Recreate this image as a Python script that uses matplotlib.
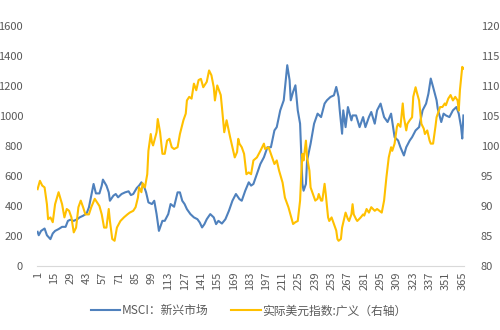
import matplotlib
matplotlib.use("Agg")
import matplotlib.pyplot as plt

plt.rcParams['font.family'] = ['Noto Sans CJK SC', 'DejaVu Sans']

# day index and values
msci_day = [1, 2, 4, 7, 9, 12, 14, 16, 19, 22, 25, 27, 29, 32, 35, 37, 40, 43, 45, 47,
            49, 51, 54, 56, 57, 60, 62, 63, 66, 68, 70, 73, 76, 79, 81, 83, 86, 88, 90, 92,
            94, 96, 99, 101, 103, 105, 108, 110, 113, 115, 118, 121, 123, 125, 127, 129, 132, 135, 138, 140,
            142, 144, 146, 149, 152, 154, 156, 159, 162, 165, 168, 171, 174, 176, 179, 182, 184, 186, 189, 192,
            195, 198, 201, 204, 206, 209, 212, 215, 217, 218, 220, 222, 224, 226, 228, 229, 231, 232, 235, 238,
            241, 244, 247, 249, 252, 255, 257, 259, 260, 262, 263, 265, 267, 270, 271, 274, 277, 280, 282, 285,
            287, 290, 292, 295, 298, 301, 304, 307, 310, 312, 315, 317, 320, 322, 325, 328, 331, 334, 336, 338,
            340, 343, 344, 347, 349, 351, 354, 357, 360, 362, 364, 365, 366]
msci_val = [228, 205, 234, 250, 205, 179, 217, 234, 246, 261, 261, 301, 308, 301, 312, 324, 335, 350, 391, 469,
            547, 484, 484, 536, 576, 536, 491, 435, 469, 480, 458, 480, 491, 498, 473, 480, 520, 536, 558, 536,
            491, 424, 413, 435, 346, 234, 301, 301, 346, 413, 395, 491, 491, 435, 413, 379, 346, 324, 312, 290,
            257, 279, 312, 346, 324, 279, 301, 283, 312, 368, 435, 480, 446, 435, 502, 558, 536, 547, 614, 681,
            725, 792, 792, 904, 926, 1038, 1105, 1339, 1239, 1105, 1161, 1205, 1038, 949, 547, 502, 547, 703, 815, 949,
            1016, 993, 1083, 1105, 1127, 1138, 1194, 1127, 1038, 882, 1038, 926, 1060, 971, 1004, 1004, 926, 993, 926, 993,
            1027, 949, 1038, 1083, 993, 960, 1016, 859, 837, 792, 737, 792, 837, 859, 904, 926, 1038, 1083, 1149, 1250,
            1194, 1105, 1049, 960, 1016, 1004, 993, 1038, 1060, 1016, 926, 850, 1004]

usd_day = [1, 3, 5, 7, 9, 10, 12, 14, 16, 19, 22, 24, 26, 28, 30, 32, 34, 36, 38, 40,
           42, 45, 47, 50, 52, 54, 56, 58, 60, 62, 63, 65, 67, 69, 72, 75, 78, 80, 83, 85,
           87, 88, 90, 91, 93, 95, 96, 98, 99, 100, 103, 104, 106, 108, 110, 112, 114, 116, 118, 121,
           123, 126, 128, 129, 131, 133, 135, 137, 139, 141, 143, 146, 148, 150, 152, 153, 155, 158, 159, 161,
           163, 166, 168, 170, 172, 173, 174, 176, 178, 180, 182, 184, 186, 189, 192, 195, 196, 199, 201, 204,
           206, 208, 211, 213, 215, 216, 218, 220, 222, 224, 226, 227, 228, 229, 231, 232, 234, 235, 237, 239,
           241, 242, 244, 245, 247, 248, 250, 251, 253, 255, 257, 258, 259, 261, 262, 264, 265, 267, 268, 270,
           271, 272, 274, 275, 278, 280, 281, 283, 285, 287, 290, 292, 294, 296, 298, 300, 302, 304, 305, 307,
           309, 310, 312, 314, 315, 317, 318, 320, 322, 323, 325, 326, 328, 330, 332, 333, 335, 337, 338, 340,
           342, 343, 345, 346, 348, 350, 351, 353, 355, 357, 359, 361, 362, 363, 365, 366]
usd_val = [92.8, 94.2, 93.4, 93.1, 90.3, 87.8, 88.1, 87.3, 90.3, 92.3, 90.3, 88.1, 89.5, 89.2, 88.1, 85.6, 86.4, 89.8, 90.9, 89.8,
           88.6, 88.6, 89.8, 91.2, 90.6, 90.0, 88.6, 86.4, 86.4, 89.5, 87.5, 84.5, 84.2, 86.4, 87.5, 88.1, 88.6, 88.9, 89.2, 89.8,
           91.4, 93.1, 92.3, 93.8, 93.1, 95.3, 99.2, 102.0, 100.6, 100.1, 102.3, 104.5, 102.3, 98.7, 98.7, 100.9, 101.2, 99.8, 99.5, 99.8,
           102.0, 104.3, 105.4, 107.6, 108.2, 107.9, 110.4, 109.3, 111.0, 111.2, 109.8, 110.7, 112.6, 111.8, 109.8, 107.6, 110.1, 108.5, 106.5, 102.3,
           104.3, 101.5, 99.8, 98.1, 99.0, 101.2, 100.4, 99.8, 98.7, 95.3, 95.6, 95.3, 97.6, 98.1, 99.2, 100.4, 99.5, 99.8, 98.7, 97.0,
           97.6, 95.9, 93.9, 91.4, 90.3, 89.8, 88.4, 87.0, 87.3, 87.5, 90.9, 95.3, 98.7, 97.6, 100.9, 98.1, 95.9, 93.1, 92.0, 90.9,
           91.2, 92.0, 90.9, 90.9, 93.7, 92.0, 88.1, 87.5, 88.1, 87.0, 85.9, 84.5, 84.2, 84.5, 86.4, 88.1, 88.9, 87.8, 87.5, 88.6,
           90.3, 88.6, 87.8, 87.5, 88.1, 88.6, 88.4, 89.5, 88.9, 89.8, 89.2, 89.5, 89.2, 88.9, 90.9, 94.8, 98.1, 99.8, 99.2, 100.4,
           103.2, 103.7, 103.2, 107.1, 104.8, 102.6, 103.7, 104.3, 104.8, 108.2, 109.8, 109.0, 107.6, 103.7, 102.9, 102.0, 102.6, 100.9, 100.4, 100.4,
           103.2, 104.8, 105.9, 106.5, 106.5, 107.1, 106.8, 107.9, 108.5, 107.6, 108.2, 107.6, 105.9, 109.3, 113.2, 112.9]

n_days = 366
tick_days = list(range(1, n_days + 1, 14))

label_msci = 'MSCI：新兴市场'
label_usd = '实际美元指数:广义（右轴）'

blue = '#4F81BD'
gold = '#FFC000'
grey = '#595959'

fig = plt.figure(figsize=(5, 3.3), dpi=100)
ax = fig.add_axes([0.074, 0.194, 0.854, 0.727])
ax2 = ax.twinx()

# secondary series is drawn on top, like in the original
l1, = ax.plot(msci_day, msci_val, color=blue, lw=1.5, label=label_msci)
l2, = ax2.plot(usd_day, usd_val, color=gold, lw=1.5, label=label_usd)

ax.set_xlim(0.5, n_days + 0.5)
ax.set_ylim(0, 1600)
ax.set_yticks(range(0, 1601, 200))
ax2.set_ylim(80, 120)
ax2.set_yticks(range(80, 121, 5))

ax.set_xticks(tick_days)
ax.set_xticklabels([str(d) for d in tick_days], rotation=90)

for a in (ax, ax2):
    for s in a.spines.values():
        s.set_visible(False)
    a.tick_params(length=0, labelsize=8, colors=grey)
ax.spines['bottom'].set_visible(True)
ax.spines['bottom'].set_color('#D9D9D9')
ax.tick_params(axis='y', pad=10)
ax2.tick_params(axis='y', pad=12)
ax.tick_params(axis='x', pad=4)

fig.legend([l1, l2], [label_msci, label_usd], loc='center', bbox_to_anchor=(0.497, 0.058),
           ncol=2, frameon=False, fontsize=8.5, handlelength=2.5, handletextpad=0.1,
           columnspacing=2.0, labelcolor=grey)

fig.savefig('out.png', dpi=100)
